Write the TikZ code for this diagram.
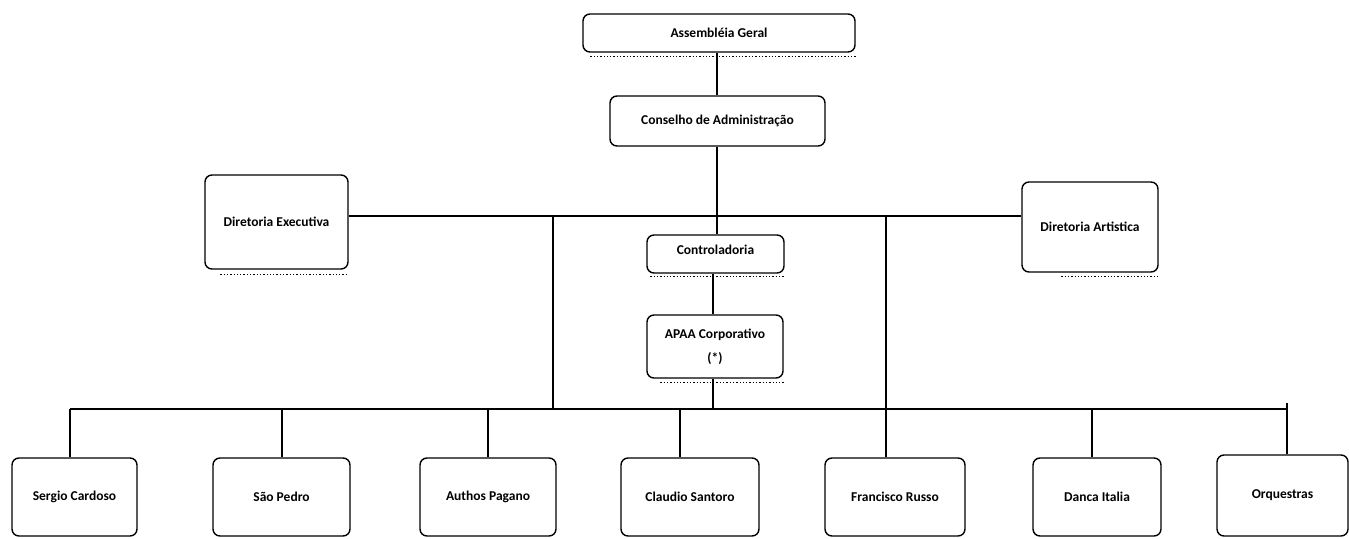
\documentclass[tikz,border=0pt]{standalone}
\usepackage{fontspec}
\setmainfont{Carlito}
\begin{document}
\begin{tikzpicture}[x=1pt,y=-1pt,
  box/.style={draw, line width=1.4pt, rounded corners=7pt, align=center, inner sep=0pt,
    font=\bfseries\fontsize{13.5}{24}\selectfont},
  conn/.style={line width=1.1pt},
  shade/.style={dotted, line width=1.3pt}]
\useasboundingbox (0,0) rectangle (1349,538);
% top part
\node[box, minimum width=272pt, minimum height=38pt] (ag) at (719,33) {Assembléia Geral};
\node[box, minimum width=215pt, minimum height=50pt] (ca) at (717.5,121) {Conselho de Administração};
\node[box, minimum width=143pt, minimum height=94pt] (de) at (276.5,222) {Diretoria Executiva};
\node[box, minimum width=136pt, minimum height=90pt] (da) at (1090,227) {Diretoria Artistica};
\node[box, minimum width=137pt, minimum height=38pt, text depth=9pt] (ct) at (715.5,254) {Controladoria};
\node[box, minimum width=136pt, minimum height=63pt] (ap) at (715,346.5) {APAA Corporativo\\(*)};
% bottom row
\node[box, minimum width=125pt, minimum height=78pt] (sc) at (74.5,497) {Sergio Cardoso};
\node[box, minimum width=137pt, minimum height=78pt] (sp) at (281.5,497) {São Pedro};
\node[box, minimum width=136pt, minimum height=78pt] (pa) at (488,497) {Authos Pagano};
\node[box, minimum width=138pt, minimum height=78pt] (cs) at (690,497) {Claudio Santoro};
\node[box, minimum width=140pt, minimum height=78pt] (fr) at (895,497) {Francisco Russo};
\node[box, minimum width=128pt, minimum height=78pt] (di) at (1097,497) {Danca Italia};
\node[box, minimum width=131pt, minimum height=81pt] (oq) at (1282.5,495.5) {Orquestras};
% bus coordinates
\coordinate (tb) at (717,216);
\coordinate (bb) at (713,409);
\coordinate (v1) at (553,216);
\coordinate (v2) at (886,216);
\coordinate (bL) at (70,409);
\coordinate (bR) at (1287,409);
\coordinate (d2) at (282,409);
\coordinate (d3) at (488,409);
\coordinate (d4) at (680,409);
\coordinate (d6) at (1092,409);
% connectors
\draw[conn] (ag.south -| tb) -- (ca.north -| tb);
\draw[conn] (ca.south -| tb) -- (ct.north -| tb);
\draw[conn] (de.east |- tb) -- (da.west |- tb);
\draw[conn] (ct.south -| bb) -- (ap.north -| bb);
\draw[conn] (ap.south -| bb) -- (bb);
\draw[conn] (v1) -- (v1 |- bb);
\draw[conn] (v2) -- (fr.north -| v2);
\draw[conn] (bL) -- (bR);
\draw[conn] (bR) ++(0,-6) -- ++(0,13);
\draw[conn] (bL) -- (sc.north -| bL);
\draw[conn] (d2) -- (sp.north -| d2);
\draw[conn] (d3) -- (pa.north -| d3);
\draw[conn] (d4) -- (cs.north -| d4);
\draw[conn] (d6) -- (di.north -| d6);
\draw[conn] (bR) -- (oq.north -| bR);
% scan shadows
\draw[shade] ([yshift=-4pt]ag.south west) ++(8,0) -- ([yshift=-4pt]ag.south east);
\draw[shade] ([yshift=-5pt]de.south west) ++(16,0) -- ([yshift=-5pt]de.south east);
\draw[shade] ([yshift=-3pt]ct.south west) ++(4,0) -- ([yshift=-3pt]ct.south east);
\draw[shade] ([yshift=-4pt]ap.south west) ++(14,0) -- ([yshift=-4pt]ap.south east);
\draw[shade] ([yshift=-4pt]da.south west) ++(40,0) -- ([yshift=-4pt]da.south east);
\end{tikzpicture}
\end{document}
